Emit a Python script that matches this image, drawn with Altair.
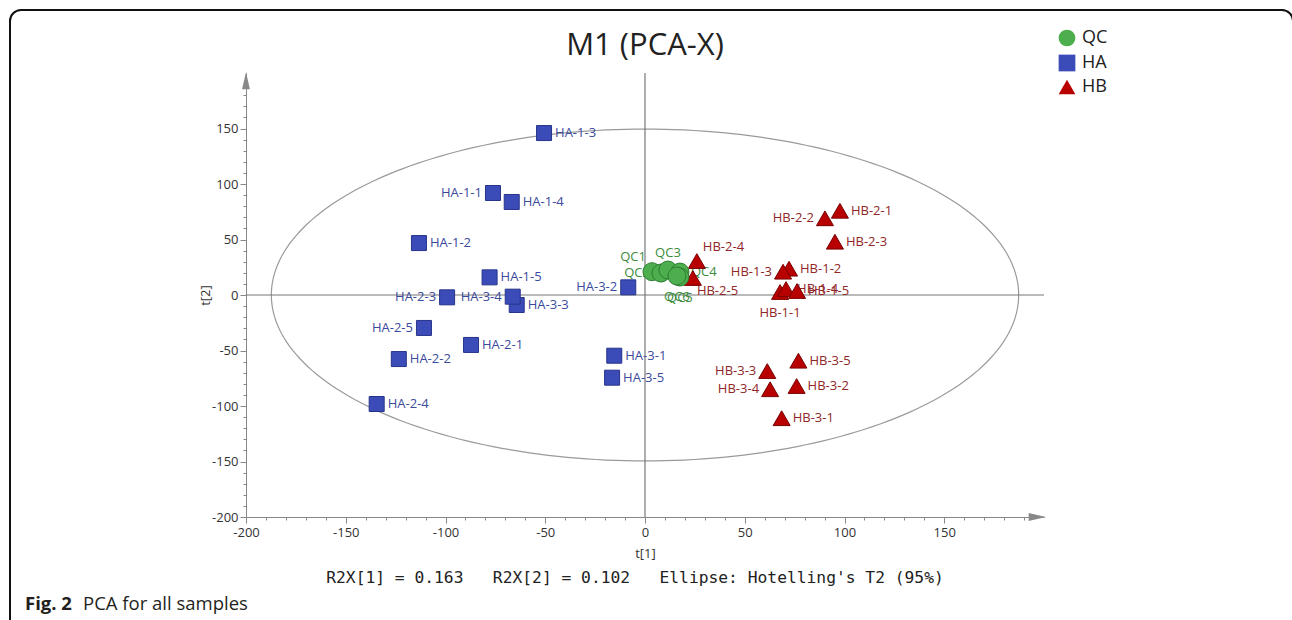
import altair as alt
import numpy as np
import pandas as pd

# ---------------- data ----------------
names = ["QC1", "QC2", "QC3", "QC4", "QC5", "QC6",
         "HA-1-1", "HA-1-2", "HA-1-3", "HA-1-4", "HA-1-5",
         "HA-2-1", "HA-2-2", "HA-2-3", "HA-2-4", "HA-2-5",
         "HA-3-1", "HA-3-2", "HA-3-3", "HA-3-4", "HA-3-5",
         "HB-1-1", "HB-1-2", "HB-1-3", "HB-1-4", "HB-1-5",
         "HB-2-1", "HB-2-2", "HB-2-3", "HB-2-4", "HB-2-5",
         "HB-3-1", "HB-3-2", "HB-3-3", "HB-3-4", "HB-3-5"]
groups = ["QC"] * 6 + ["HA"] * 15 + ["HB"] * 15
t1 = [3.5, 8.0, 11.5, 17.5, 17.5, 16.0,
      -76.2, -113.3, -50.6, -66.8, -77.9,
      -87.2, -123.4, -99.2, -134.5, -110.8,
      -15.4, -8.4, -64.3, -66.3, -16.5,
      67.7, 72.2, 69.2, 70.7, 76.2,
      97.7, 90.2, 95.2, 26.0, 24.0,
      68.5, 76.0, 61.3, 62.7, 76.9]
t2 = [21.0, 19.8, 22.5, 20.7, 16.2, 17.1,
      91.9, 46.8, 145.9, 83.8, 15.9,
      -45.0, -57.7, -2.1, -98.2, -29.7,
      -54.7, 6.9, -9.0, -1.5, -74.5,
      2.7, 23.7, 21.0, 5.4, 3.6,
      75.9, 69.1, 48.0, 30.6, 15.3,
      -111.0, -82.0, -68.5, -84.9, -59.2]
# label placement code for each sample
label_side = ["tl", "l", "t", "r", "b", "b",
              "l", "r", "r", "r", "r",
              "r", "r", "l", "r", "l",
              "r", "l", "r", "l", "r",
              "b", "r", "l", "r", "r",
              "r", "l", "r", "tr", "br",
              "r", "r", "l", "l", "r"]

group_order = ["QC", "HA", "HB"]
fill_colors = ["#4cae4c", "#3b4cb8", "#b80000"]
stroke_colors = ["#2e7d32", "#27348a", "#7a0000"]
label_colors = ["#3d8b3d", "#3a4a9c", "#8f2727"]
shapes = ["circle", "square", "triangle-up"]
sizes = [324, 225, 290]

# Hotelling T2 ellipse semi-axes (t[1], t[2])
ell_a, ell_b = 187.3, 149.5

title_text = "M1 (PCA-X)"
NB = "\u00a0"
stats_text = ("R2X[1] = 0.163   R2X[2] = 0.102   Ellipse: Hotelling's T2 (95%)").replace(" ", NB)
caption_bold = "Fig. 2"
caption_rest = "PCA for all samples"

# ---------------- frames ----------------
lc = dict(zip(group_order, label_colors))
df = pd.DataFrame({"name": names, "group": groups, "x": t1, "y": t2,
                   "side": label_side})
df["lcolor"] = df["group"].map(lc)

theta = np.linspace(0, 2 * np.pi, 241)
ell = pd.DataFrame({"x": ell_a * np.cos(theta), "y": ell_b * np.sin(theta),
                    "i": np.arange(len(theta))})
one = pd.DataFrame({"k": [0]})

FONT = "Open Sans"
SCX = alt.Scale(domain=[-200, 200], nice=False, zero=False)
SCY = alt.Scale(domain=[-200, 200], nice=False, zero=False)
ticks = list(range(-200, 200, 10))
major_test = "datum.value % 50 === 0"
AXX = alt.Axis(values=ticks, labelExpr=f"{major_test} ? '' + datum.value : ''",
               tickSize={"condition": {"test": major_test, "value": 6}, "value": 3},
               grid=False, domainColor="#888", tickColor="#888",
               labelColor="#333", labelFont=FONT, labelFontSize=13,
               labelOverlap=False, labelFlush=False, labelPadding=3,
               title="t[1]", titleFont=FONT, titleFontSize=13,
               titleFontWeight="normal", titleColor="#333",
               titleY=36, titleBaseline="middle", orient="bottom")
AXY = alt.Axis(values=ticks, labelExpr=f"{major_test} ? '' + datum.value : ''",
               tickSize={"condition": {"test": major_test, "value": 6}, "value": 3},
               grid=False, domainColor="#888", tickColor="#888",
               labelColor="#333", labelFont=FONT, labelFontSize=13,
               labelOverlap=False, labelFlush=False, labelPadding=2,
               title="t[2]", titleFont=FONT, titleFontSize=13,
               titleFontWeight="normal", titleColor="#333",
               titleX=-41, titleBaseline="middle", orient="left")

X = lambda f: alt.X(f, scale=SCX, axis=AXX)
Y = lambda f: alt.Y(f, scale=SCY, axis=AXY)

# frame around figure
frame = alt.Chart(one).mark_rect(fill="transparent", stroke="#111", strokeWidth=2,
                                 cornerRadius=11).encode(
    x=alt.value(-236), x2=alt.value(1047), y=alt.value(-63), y2=alt.value(557))

ellipse = alt.Chart(ell).mark_line(color="#9a9a9a", strokeWidth=1.2).encode(
    x=X("x:Q"), y=Y("y:Q"), order="i:Q")

vzero = alt.Chart(one).mark_rule(color="#777", strokeWidth=1.2).encode(
    x=alt.XDatum(0, scale=SCX, axis=AXX), y=alt.YDatum(-200, scale=SCY, axis=AXY),
    y2=alt.Y2Datum(200))
hzero = alt.Chart(one).mark_rule(color="#777", strokeWidth=1.2).encode(
    y=alt.YDatum(0, scale=SCY, axis=AXY), x=alt.XDatum(-200, scale=SCX, axis=AXX),
    x2=alt.X2Datum(200))

up_arrow = alt.Chart(one).mark_point(shape="M0,0L0.45,2L-0.45,2Z", size=300,
                                     filled=True, color="#888", opacity=1).encode(
    x=alt.XDatum(-200, scale=SCX, axis=AXX), y=alt.YDatum(201, scale=SCY, axis=AXY))
right_arrow = alt.Chart(one).mark_point(shape="M0,0L-2,-0.45L-2,0.45Z", size=300,
                                        filled=True, color="#888", opacity=1).encode(
    x=alt.XDatum(201, scale=SCX, axis=AXX), y=alt.YDatum(-200, scale=SCY, axis=AXY))

placements = {
    "r": ("left", 11, 0),
    "l": ("right", -11, 0),
    "t": ("center", 0, -17),
    "b": ("center", 0, 21),
    "tl": ("right", -6, -15),
    "tr": ("left", 6, -14),
    "br": ("left", 4, 13),
}
label_layers = []
for code, (al, dx, dy) in placements.items():
    label_layers.append(
        alt.Chart(df).transform_filter(alt.datum.side == code)
        .mark_text(align=al, baseline="middle", dx=dx, dy=dy, font=FONT, fontSize=13)
        .encode(x=X("x:Q"), y=Y("y:Q"), text="name:N",
                color=alt.Color("lcolor:N", scale=None))
    )

LEG = alt.Legend(orient="none", legendX=812, legendY=-44, title=None,
                 labelFont=FONT, labelFontSize=18, labelColor="#222",
                 symbolSize=280, symbolStrokeWidth=1, symbolStrokeColor="#555",
                 rowPadding=3, padding=0, labelOffset=6)
point_layers = []
for g, st, sz in [("HB", stroke_colors[2], sizes[2]), ("HA", stroke_colors[1], sizes[1]),
                  ("QC", stroke_colors[0], sizes[0])]:
    point_layers.append(
        alt.Chart(df).transform_filter(alt.datum.group == g)
        .mark_point(filled=True, size=sz, stroke=st, strokeWidth=1, opacity=1, fillOpacity=1)
        .encode(x=X("x:Q"), y=Y("y:Q"),
                fill=alt.Fill("group:N", scale=alt.Scale(domain=group_order, range=fill_colors),
                              legend=LEG),
                shape=alt.Shape("group:N", scale=alt.Scale(domain=group_order, range=shapes),
                                legend=LEG))
    )

title = alt.Chart(one).mark_text(font=FONT, fontSize=31, color="#222",
                                 align="center", baseline="middle").encode(
    x=alt.value(399), y=alt.value(-27), text=alt.value(title_text))
stats = alt.Chart(one).mark_text(font="DejaVu Sans Mono", fontSize=16.3, color="#222",
                                 align="center", baseline="middle").encode(
    x=alt.value(389), y=alt.value(505), text=alt.value(stats_text))
cap1 = alt.Chart(one).mark_text(font=FONT, fontSize=18.5, fontWeight="bold", color="#231f20",
                                align="left", baseline="middle").encode(
    x=alt.value(-221), y=alt.value(531), text=alt.value(caption_bold))
cap2 = alt.Chart(one).mark_text(font=FONT, fontSize=18.5, color="#231f20",
                                align="left", baseline="middle").encode(
    x=alt.value(-163), y=alt.value(531), text=alt.value(caption_rest))

chart = alt.layer(
    frame, ellipse, vzero, hzero, *label_layers, *point_layers,
    up_arrow, right_arrow, title, stats, cap1, cap2
).properties(
    width=798, height=444,
    autosize=alt.AutoSizeParams(type="none"),
    padding={"left": 246, "top": 73, "right": 248, "bottom": 103},
    background="white",
).configure_view(stroke=None)

chart.save("out.html", embed_options={"renderer": "svg", "actions": False})
